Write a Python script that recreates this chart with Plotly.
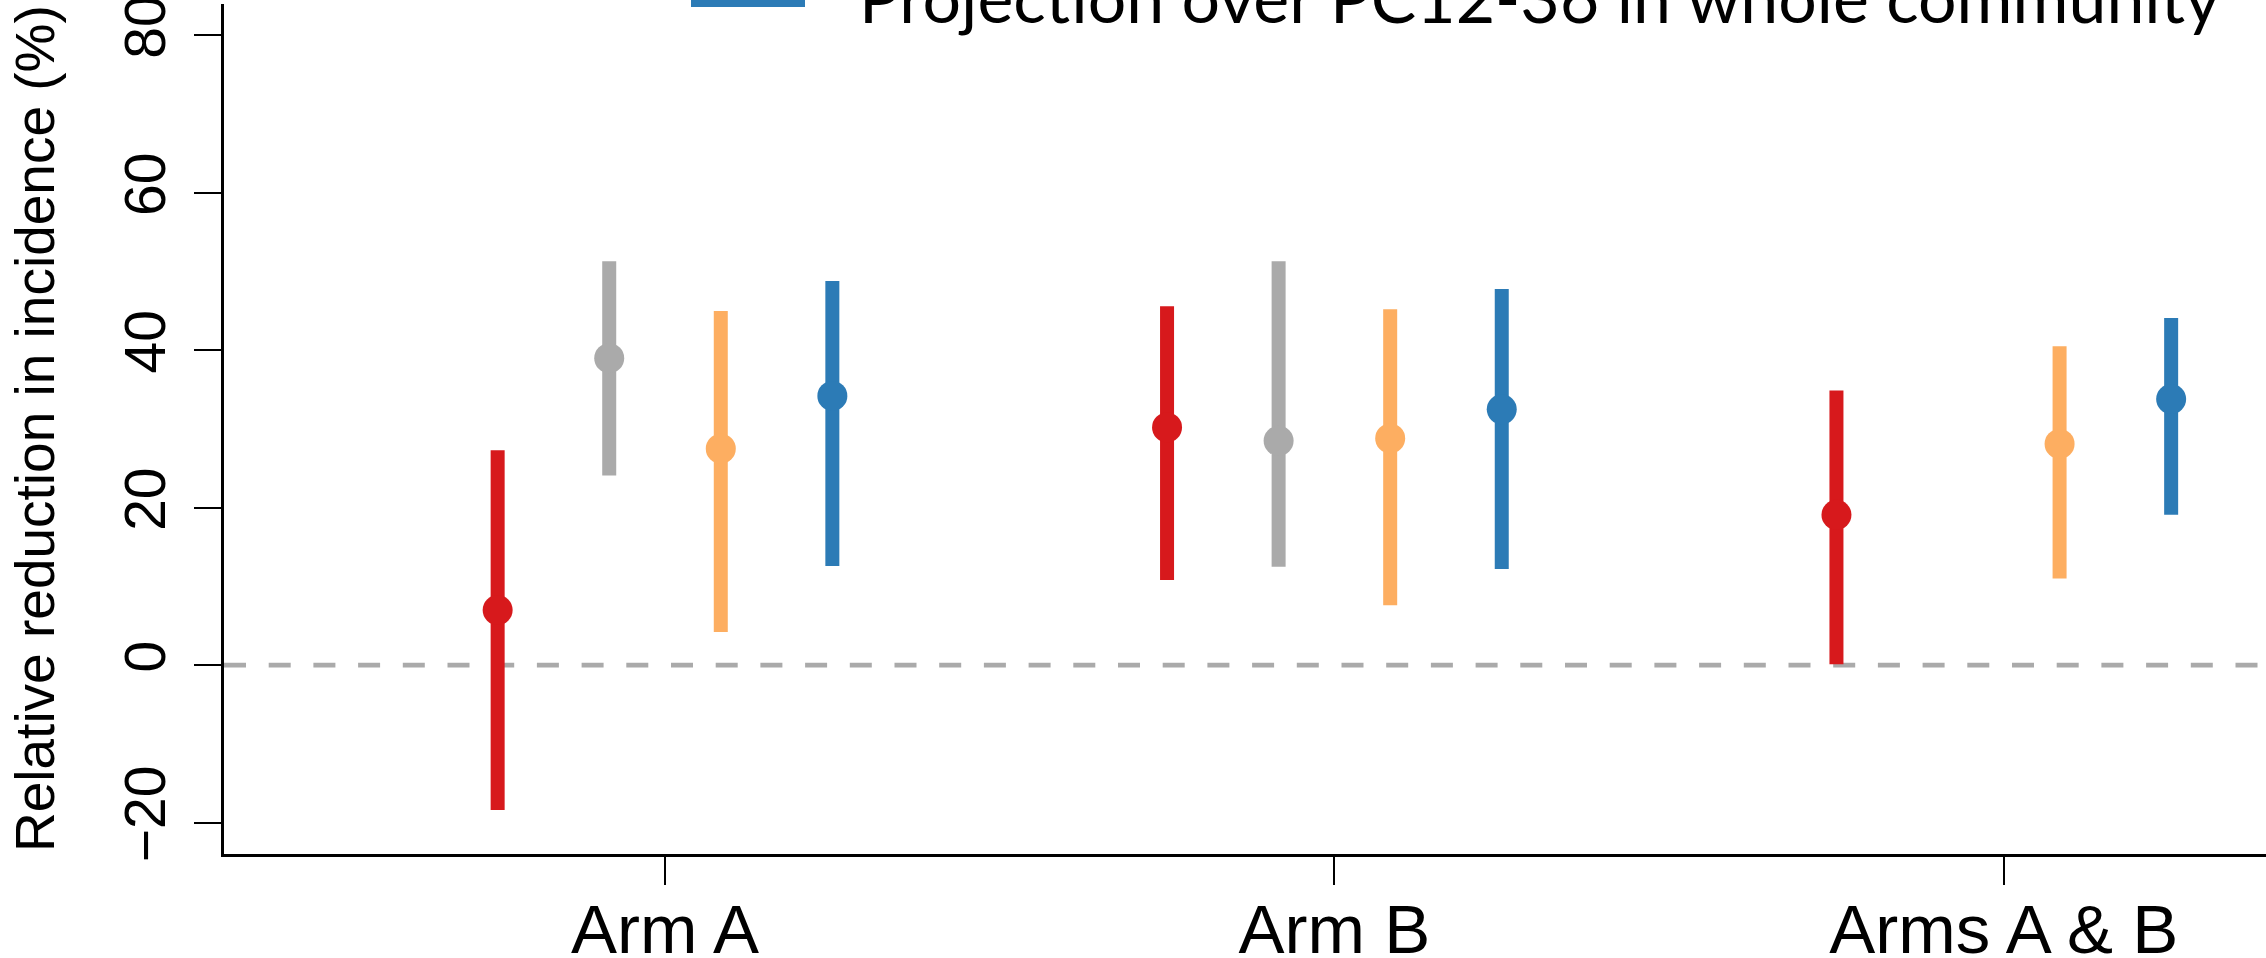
import plotly.graph_objects as go

categories = ["Arm A", "Arm B", "Arms A & B"]
cat_pos = [1, 2, 3]

red_point = [7.0, 30.2, 19.1]
red_lower = [-18.4, 10.8, 0.1]
red_upper = [27.3, 45.6, 34.9]

gray_point = [39.0, 28.5]
gray_lower = [24.1, 12.5]
gray_upper = [51.3, 51.3]

orange_point = [27.5, 28.8, 28.1]
orange_lower = [4.2, 7.6, 11.0]
orange_upper = [45.0, 45.2, 40.5]

blue_point = [34.2, 32.5, 33.8]
blue_lower = [12.6, 12.2, 19.1]
blue_upper = [48.8, 47.8, 44.1]

y_ticks = [-20, 0, 20, 40, 60, 80]
legend_label = "Projection over PC12-36 in whole community"
y_title = "Relative reduction in incidence (%)"

series = [
    ("s1", red_point, red_lower, red_upper, "#D7191C", -0.25),
    ("s2", gray_point, gray_lower, gray_upper, "#AAAAAA", -1 / 12),
    ("s3", orange_point, orange_lower, orange_upper, "#FDAE61", 1 / 12),
    (legend_label, blue_point, blue_lower, blue_upper, "#2C7BB6", 0.25),
]

fig = go.Figure()
for name, pt, lo, hi, col, off in series:
    xs = [cat_pos[i] + off for i in range(len(pt))]
    fig.add_trace(go.Scatter(
        x=xs, y=pt, mode="markers", name=name, showlegend=False,
        marker=dict(size=30, color=col, line=dict(width=0)),
        error_y=dict(type="data", symmetric=False,
                     array=[h - p for h, p in zip(hi, pt)],
                     arrayminus=[p - l for p, l in zip(pt, lo)],
                     thickness=14, width=0, color=col),
    ))

W, H = 2266, 958
ml, mr, mt, mb = 224, 0, 4, 104
pw, ph = W - ml - mr, H - mt - mb

# dashed zero line
fig.add_shape(type="line", xref="paper", yref="y", x0=0, x1=1, y0=0, y1=0,
              line=dict(color="#AAAAAA", width=4.7, dash="22px,22.7px"), layer="below")

# legend (partially cut at top)
fig.add_shape(type="line", xref="paper", yref="paper",
              x0=(691 - ml) / pw, x1=(805 - ml) / pw,
              y0=1 + mt / ph, y1=1 + mt / ph,
              line=dict(color="#2C7BB6", width=14))
fig.add_annotation(text=legend_label, xref="paper", yref="paper",
                   x=(858 - ml) / pw, y=1 + (mt - 38) / ph,
                   xanchor="left", yanchor="bottom", showarrow=False,
                   font=dict(family="Lato", size=68, color="black"), borderpad=0)

# y axis title
fig.add_annotation(text=y_title, xref="paper", yref="paper",
                   x=(35 - ml) / pw, y=0.5, xanchor="center", yanchor="middle",
                   textangle=-90, showarrow=False,
                   font=dict(family="Liberation Sans", size=55, color="black"))

fig.update_layout(
    width=W, height=H, margin=dict(l=ml, r=mr, t=mt, b=mb, autoexpand=False),
    plot_bgcolor="white", paper_bgcolor="white",
    font=dict(family="Liberation Sans", color="black"),
    xaxis=dict(range=[0.3412, 3.3917], tickvals=cat_pos, ticktext=categories,
               automargin=False, ticklabeloverflow="allow",
               showgrid=False, zeroline=False, showline=True, linecolor="black", linewidth=3,
               ticks="outside", ticklen=28, tickwidth=1.6, tickcolor="black",
               tickfont=dict(size=69, family="Liberation Sans"), ticklabelstandoff=-15),
    yaxis=dict(range=[-24, 84], tickvals=y_ticks, ticktext=[("\u2212" + str(-v)) if v < 0 else str(v) for v in y_ticks],
               automargin=False, ticklabeloverflow="allow",
               showgrid=False, zeroline=False, showline=True, linecolor="black", linewidth=3,
               ticks="outside", ticklen=27, tickwidth=1.6, tickcolor="black", tickangle=-90,
               tickfont=dict(size=57, family="Liberation Sans"), ticklabelstandoff=6),
)

fig.write_html("out.html", config={"displayModeBar": False},
               post_script="document.body.style.margin='0';")
